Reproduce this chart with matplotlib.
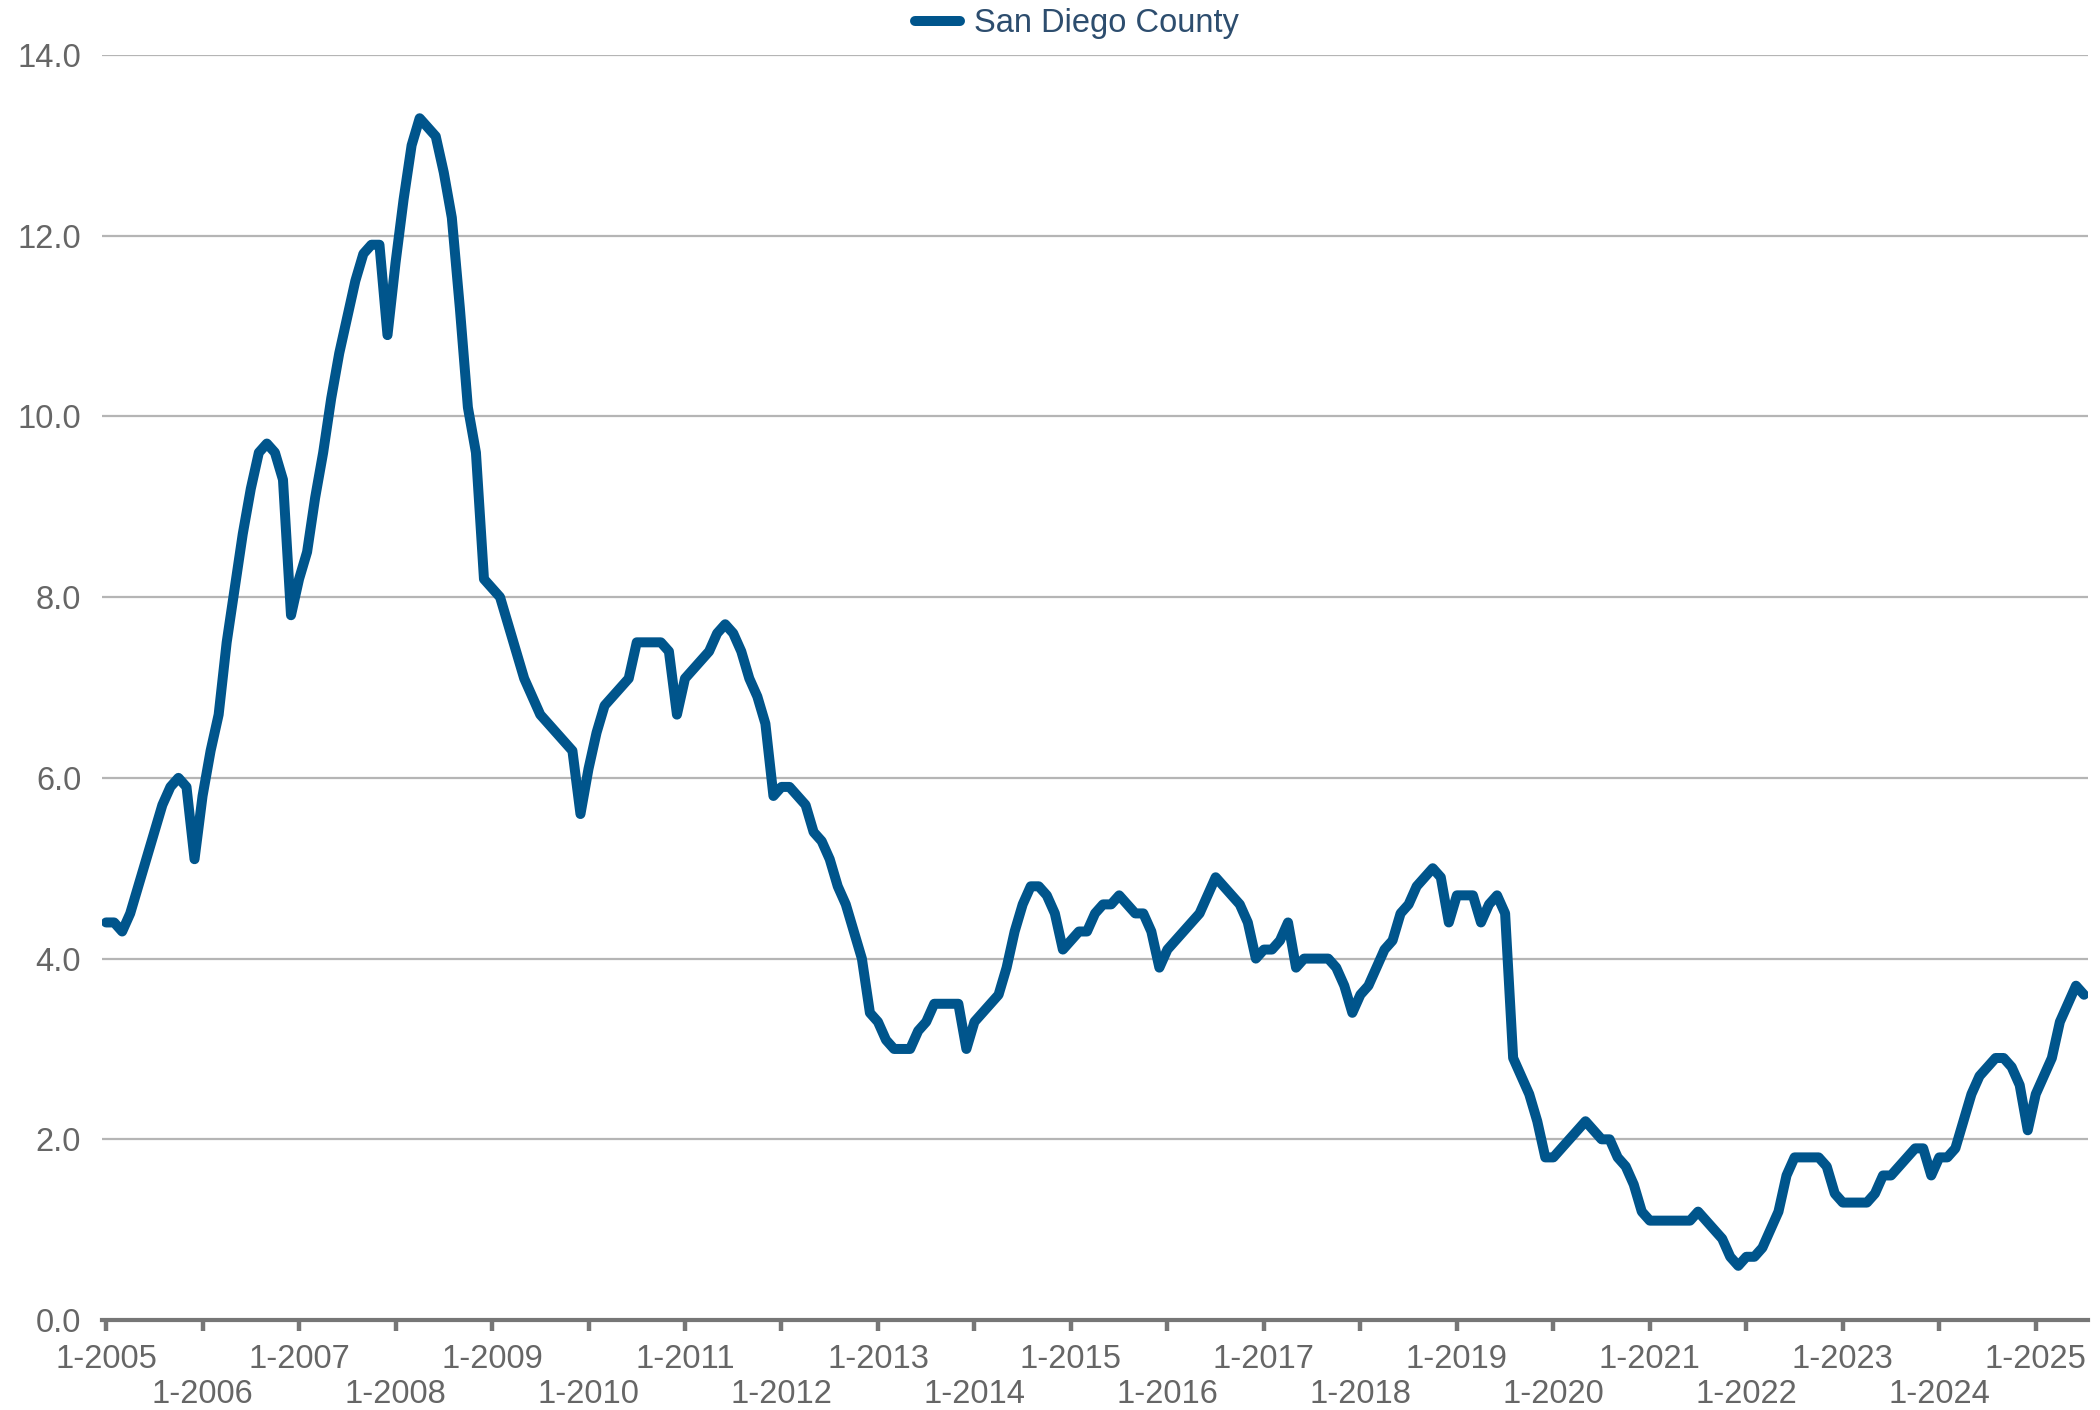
import numpy as np
import matplotlib
matplotlib.use("Agg")
import matplotlib.pyplot as plt
from matplotlib.ticker import FormatStrFormatter

plt.rcParams['font.family'] = ['Liberation Sans', 'DejaVu Sans']

# monthly values, Jan 2005 .. Jul 2025
rate_2005 = [4.4, 4.4, 4.3, 4.5, 4.8, 5.1, 5.4, 5.7, 5.9, 6.0, 5.9, 5.1]
rate_2006 = [5.8, 6.3, 6.7, 7.5, 8.1, 8.7, 9.2, 9.6, 9.7, 9.6, 9.3, 7.8]
rate_2007 = [8.2, 8.5, 9.1, 9.6, 10.2, 10.7, 11.1, 11.5, 11.8, 11.9, 11.9, 10.9]
rate_2008 = [11.7, 12.4, 13.0, 13.3, 13.2, 13.1, 12.7, 12.2, 11.2, 10.1, 9.6, 8.2]
rate_2009 = [8.1, 8.0, 7.7, 7.4, 7.1, 6.9, 6.7, 6.6, 6.5, 6.4, 6.3, 5.6]
rate_2010 = [6.1, 6.5, 6.8, 6.9, 7.0, 7.1, 7.5, 7.5, 7.5, 7.5, 7.4, 6.7]
rate_2011 = [7.1, 7.2, 7.3, 7.4, 7.6, 7.7, 7.6, 7.4, 7.1, 6.9, 6.6, 5.8]
rate_2012 = [5.9, 5.9, 5.8, 5.7, 5.4, 5.3, 5.1, 4.8, 4.6, 4.3, 4.0, 3.4]
rate_2013 = [3.3, 3.1, 3.0, 3.0, 3.0, 3.2, 3.3, 3.5, 3.5, 3.5, 3.5, 3.0]
rate_2014 = [3.3, 3.4, 3.5, 3.6, 3.9, 4.3, 4.6, 4.8, 4.8, 4.7, 4.5, 4.1]
rate_2015 = [4.2, 4.3, 4.3, 4.5, 4.6, 4.6, 4.7, 4.6, 4.5, 4.5, 4.3, 3.9]
rate_2016 = [4.1, 4.2, 4.3, 4.4, 4.5, 4.7, 4.9, 4.8, 4.7, 4.6, 4.4, 4.0]
rate_2017 = [4.1, 4.1, 4.2, 4.4, 3.9, 4.0, 4.0, 4.0, 4.0, 3.9, 3.7, 3.4]
rate_2018 = [3.6, 3.7, 3.9, 4.1, 4.2, 4.5, 4.6, 4.8, 4.9, 5.0, 4.9, 4.4]
rate_2019 = [4.7, 4.7, 4.7, 4.4, 4.6, 4.7, 4.5, 2.9, 2.7, 2.5, 2.2, 1.8]
rate_2020 = [1.8, 1.9, 2.0, 2.1, 2.2, 2.1, 2.0, 2.0, 1.8, 1.7, 1.5, 1.2]
rate_2021 = [1.1, 1.1, 1.1, 1.1, 1.1, 1.1, 1.2, 1.1, 1.0, 0.9, 0.7, 0.6]
rate_2022 = [0.7, 0.7, 0.8, 1.0, 1.2, 1.6, 1.8, 1.8, 1.8, 1.8, 1.7, 1.4]
rate_2023 = [1.3, 1.3, 1.3, 1.3, 1.4, 1.6, 1.6, 1.7, 1.8, 1.9, 1.9, 1.6]
rate_2024 = [1.8, 1.8, 1.9, 2.2, 2.5, 2.7, 2.8, 2.9, 2.9, 2.8, 2.6, 2.1]
rate_2025 = [2.5, 2.7, 2.9, 3.3, 3.5, 3.7, 3.6]

years = list(range(2005, 2026))
series_name = 'San Diego County'

values = (rate_2005 + rate_2006 + rate_2007 + rate_2008 + rate_2009 + rate_2010
          + rate_2011 + rate_2012 + rate_2013 + rate_2014 + rate_2015 + rate_2016
          + rate_2017 + rate_2018 + rate_2019 + rate_2020 + rate_2021 + rate_2022
          + rate_2023 + rate_2024 + rate_2025)
x = np.arange(len(values))

line_col = '#00558C'
text_col = '#666666'
axis_col = '#767676'

fig = plt.figure(figsize=(21, 14.1), dpi=100)
ax = fig.add_axes([0.0486, 0.0638, 0.9457, 0.8972])

ax.plot(x, values, color=line_col, lw=7.2, label=series_name,
        solid_joinstyle='round', solid_capstyle='round', zorder=3)

ax.set_xlim(-0.5, len(values) - 0.5)
ax.set_ylim(0, 14)
ax.set_yticks(np.arange(0, 15, 2))
ax.yaxis.set_major_formatter(FormatStrFormatter('%.1f'))

# yearly ticks, labels staggered over two rows
ticks = [12 * i for i in range(len(years))]
labels = []
for i, yr in enumerate(years):
    lab = f'1-{yr}'
    if i % 2 == 1:
        lab = '\n' + lab
    labels.append(lab)
ax.set_xticks(ticks)
ax.set_xticklabels(labels, linespacing=1.2)

ax.grid(axis='y', color='#B5B5B5', lw=1.6)
ax.set_axisbelow(True)
for s in ['top', 'right', 'left']:
    ax.spines[s].set_visible(False)
ax.spines['bottom'].set_color(axis_col)
ax.spines['bottom'].set_linewidth(3)
ax.spines['bottom'].set_zorder(4)

ax.tick_params(axis='x', length=8, width=3.2, color=axis_col, labelcolor=text_col,
               labelsize=23.5, pad=9)
ax.tick_params(axis='y', length=0, labelcolor=text_col, labelsize=23.5, pad=15)

leg = fig.legend(loc='center', bbox_to_anchor=(0.513, 0.983), frameon=False,
                 fontsize=23.5, handlelength=1.35, handletextpad=0.45)
for t in leg.get_texts():
    t.set_color('#2D4D6E')

fig.savefig('out.png', dpi=100)
